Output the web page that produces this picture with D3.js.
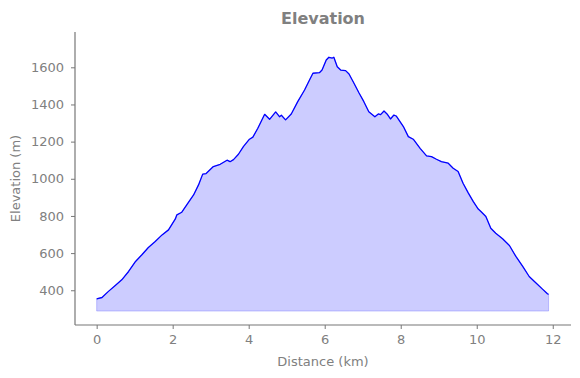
<!DOCTYPE html>
<html>
  <head>
    <meta charset="utf-8">
    <title>Elevation</title>
    <script src="https://d3js.org/d3.v7.min.js"></script>
    <style>
      body { margin: 0; background: #fff; }
      text { font-family: "DejaVu Sans", sans-serif; fill: #808080; }
    </style>
  </head>
  <body>
    <script>
        // profile (km, m)
        var distance = [0, 0.14, 0.31, 0.49, 0.66, 0.84, 1.01, 1.19, 1.36, 1.54, 1.72, 1.89,
            2.07, 2.11, 2.24, 2.37, 2.55, 2.68, 2.79, 2.88, 3.07, 3.25, 3.43, 3.51, 3.6, 3.73, 3.86,
            4.02, 4.11, 4.24, 4.42, 4.55, 4.71, 4.81, 4.86, 4.97, 5.12, 5.29, 5.47, 5.6, 5.69, 5.86,
            5.93, 6.04, 6.11, 6.2, 6.24, 6.33, 6.42, 6.55, 6.64, 6.77, 6.9, 7.03, 7.16, 7.32, 7.41,
            7.47, 7.56, 7.64, 7.73, 7.82, 7.88, 8.07, 8.2, 8.33, 8.51, 8.68, 8.81, 8.94, 9.07, 9.25,
            9.38, 9.51, 9.64, 9.78, 9.91, 10.04, 10.11, 10.24, 10.37, 10.5, 10.68, 10.86, 11.03,
            11.21, 11.38, 11.56, 11.73, 11.86, 11.89];
        var elevation = [354, 361, 394, 426, 456, 501, 552, 591, 630, 662, 698, 725,
            784, 806, 820, 860, 913, 967, 1025, 1028, 1066, 1078, 1100, 1092, 1103, 1132, 1173,
            1213, 1224, 1272, 1347, 1320, 1360, 1334, 1342, 1317, 1349, 1415, 1478, 1532, 1568, 1571,
            1585, 1639, 1654, 1650, 1654, 1603, 1585, 1582, 1564, 1514, 1463, 1415, 1361, 1334, 1349,
            1345, 1365, 1349, 1322, 1343, 1338, 1281, 1227, 1213, 1164, 1123, 1119, 1105, 1092, 1084,
            1057, 1039, 976, 923, 877, 837, 824, 797, 734, 707, 677, 641, 582,
            528, 474, 439, 406, 381, 378];
        var baseElev = 288;
        var xTicks = [0, 2, 4, 6, 8, 10, 12];
        var yTicks = [400, 600, 800, 1000, 1200, 1400, 1600];

        var width = 580, height = 378;
        var margin = {top: 32, right: 9, bottom: 53, left: 75};

        var svg = d3.select("body").append("svg")
            .attr("width", width)
            .attr("height", height)
        ;

        var points = distance.map((d, i) => [d, elevation[i]]);

        var xScale = d3.scaleLinear()
            .domain([-0.57, 12.48])
            .range([margin.left, width - margin.right])
        ;
        var yScale = d3.scaleLinear()
            .domain([213, 1790])
            .range([height - margin.bottom, margin.top])
        ;

        var area = d3.area()
            .x((d) => xScale(d[0]))
            .y0(yScale(baseElev))
            .y1((d) => yScale(d[1]))
        ;
        svg.append("path")
            .datum(points)
            .attr("d", area)
            .attr("fill", "#ccccff")
            .attr("stroke", "rgba(0,0,255,0.2)")
            .attr("stroke-width", 1)
        ;

        var line = d3.line()
            .x((d) => xScale(d[0]))
            .y((d) => yScale(d[1]))
        ;
        svg.append("path")
            .datum(points)
            .attr("d", line)
            .attr("fill", "none")
            .attr("stroke", "#0000ff")
            .attr("stroke-width", 1.3)
            .attr("stroke-linejoin", "round")
        ;

        var axisX = d3.axisBottom(xScale).tickValues(xTicks).tickFormat(d3.format("d")).tickSize(4).tickPadding(6);
        var axisY = d3.axisLeft(yScale).tickValues(yTicks).tickFormat(d3.format("d")).tickSize(4).tickPadding(7);

        var gx = svg.append("g")
            .attr("transform", "translate(0," + (height - margin.bottom) + ")")
            .call(axisX)
        ;
        var gy = svg.append("g")
            .attr("transform", "translate(" + margin.left + ",0)")
            .call(axisY)
        ;
        [gx, gy].forEach((g) => {
            g.select(".domain").attr("stroke", "#777").attr("stroke-width", 1.2);
            g.selectAll(".tick line").attr("stroke", "#777");
            g.selectAll(".tick text").attr("fill", "#808080").style("font-size", "13px").style("font-family", "DejaVu Sans");
        });
        // plain spines, no end ticks
        gx.select(".domain").attr("d", "M" + margin.left + ",0H" + (width - margin.right));
        gy.select(".domain").attr("d", "M0," + margin.top + "V" + (height - margin.bottom));

        svg.append("text")
            .attr("x", (margin.left + width - margin.right) / 2)
            .attr("y", 24)
            .attr("text-anchor", "middle")
            .style("font-size", "16px")
            .style("font-weight", "bold")
            .text("Elevation")
        ;
        svg.append("text")
            .attr("x", (margin.left + width - margin.right) / 2)
            .attr("y", 366)
            .attr("text-anchor", "middle")
            .style("font-size", "13px")
            .text("Distance (km)")
        ;
        svg.append("text")
            .attr("transform", "translate(20," + ((margin.top + height - margin.bottom) / 2) + ") rotate(-90)")
            .attr("text-anchor", "middle")
            .style("font-size", "13px")
            .text("Elevation (m)")
        ;
    </script>
  </body>
</html>
